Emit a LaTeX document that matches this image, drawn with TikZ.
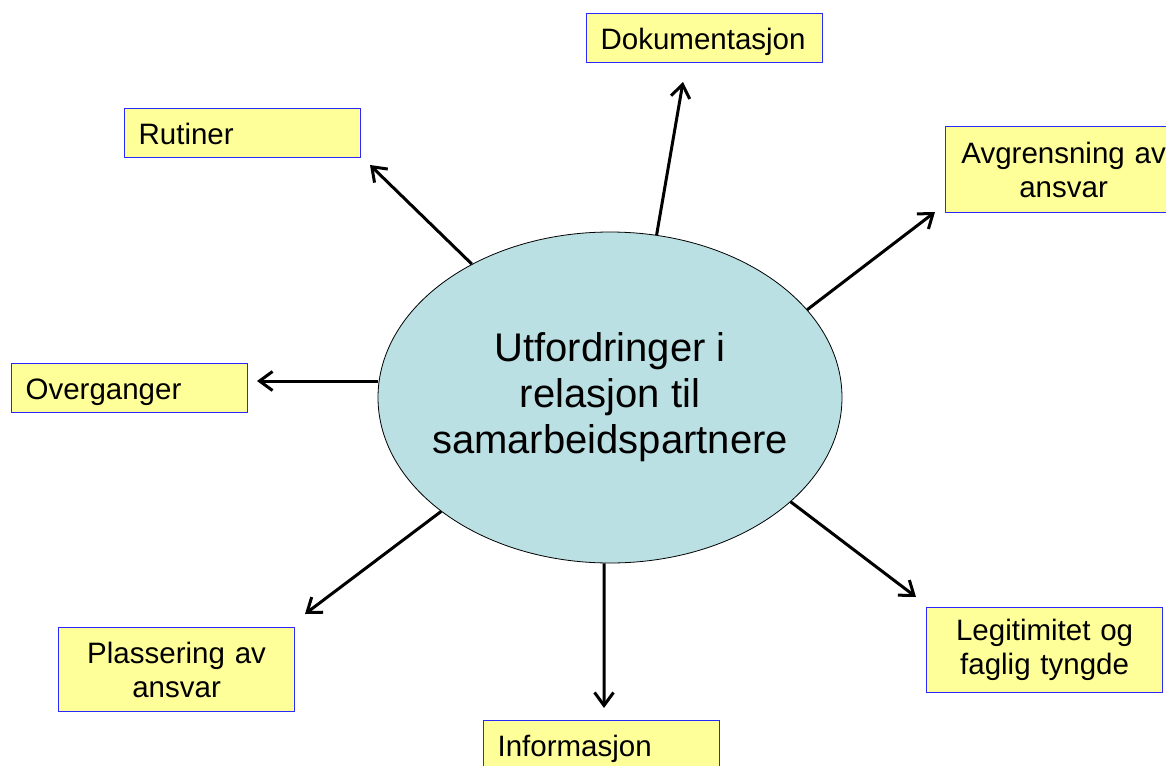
\documentclass[tikz,border=0pt]{standalone}
\usepackage{fontspec}
\setmainfont{Liberation Sans}
\usetikzlibrary{shapes.geometric,arrows.meta}
\definecolor{boxfill}{RGB}{255,255,153}
\definecolor{boxline}{RGB}{40,40,255}
\definecolor{ellfill}{RGB}{187,224,227}
\begin{document}
\begin{tikzpicture}[x=1pt,y=-1pt,
  box/.style={draw=boxline, fill=boxfill, line width=1.2pt, minimum height=49pt,
    text width=208pt, inner xsep=14pt, inner ysep=0pt,
    font=\fontsize{29.5pt}{34pt}\selectfont, anchor=north west},
  lbox/.style={box, align=left, text height=28pt, text depth=5pt},
  cbox/.style={box, align=center, minimum height=85pt},
  ell/.style={ellipse, draw=black, line width=0.8pt, fill=ellfill, inner sep=0pt,
    minimum width=464pt, minimum height=331pt},
  etext/.style={align=center, inner sep=0pt, font=\fontsize{40pt}{46pt}\selectfont},
  arr/.style={line width=3pt, -{Straight Barb[length=13pt,width=19pt]}}]
\useasboundingbox (0,0) rectangle (1166,765);
\clip (0,0) rectangle (1166,765);
\fill[white] (0,0) rectangle (1166,765);
% boxes
\node[lbox] (dok) at (586,13) {Dokumentasjon};
\node[lbox] (rut) at (124,108) {Rutiner};
\node[cbox, minimum height=86pt] (avg) at (945,126) {Avgrensning av\\ansvar};
\node[lbox] (ove) at (11,363) {Overganger};
\node[cbox, minimum height=84pt] (pla) at (58,627) {Plassering av\\ansvar};
\node[cbox] (leg) at (926,607) {Legitimitet og\\faglig tyngde};
\node[lbox] (inf) at (483,720) {Informasjon};
% centre
\node[ell] (c) at (610,397.5) {};
\node[etext] (ct) at (c.center) {Utfordringer i\\relasjon til\\samarbeidspartnere};
% arrow tips
\coordinate (tRut) at (370,165);
\coordinate (tDok) at (683,82);
\coordinate (tAvg) at (935,212);
\coordinate (tOve) at (257,381);
\coordinate (tPla) at (305,614);
\coordinate (tInf) at (604,708);
\coordinate (tLeg) at (916,597);
\draw[arr] (c.136.4) -- (tRut);
\draw[arr] (c.74.6) -- (tDok);
\draw[arr] (c.24.9) -- (tAvg);
\draw[arr] (c.west |- tOve) -- (tOve);
\draw[arr] (c.-146.7) -- (tPla);
\draw[arr] (c.-92.1) -- (tInf);
\draw[arr] (c.-30.9) -- (tLeg);
\end{tikzpicture}
\end{document}
